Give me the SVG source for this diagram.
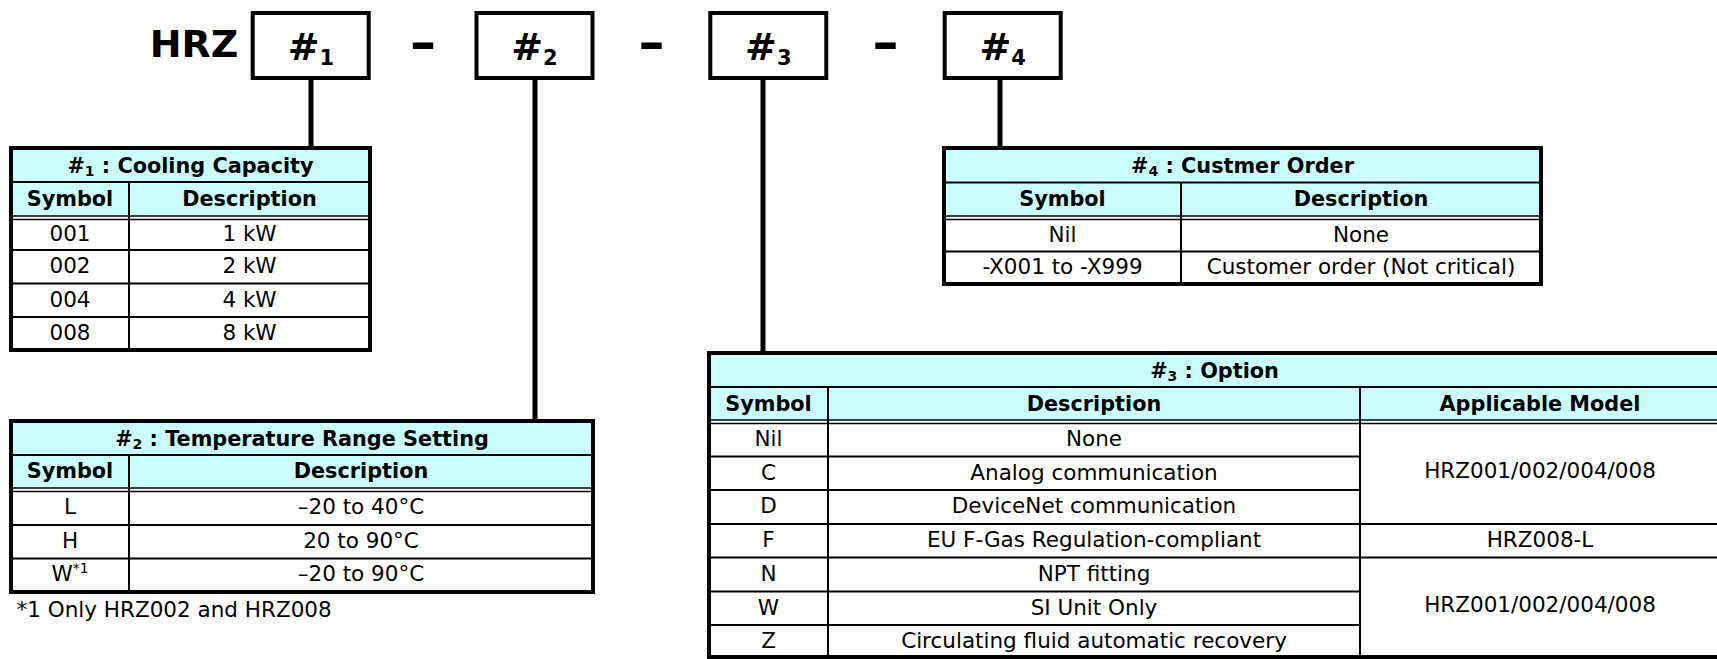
<svg xmlns="http://www.w3.org/2000/svg" width="1717" height="659" viewBox="0 0 1717 659">
<style>
.t{font-family:"DejaVu Sans",Verdana,sans-serif;font-size:21.5px;fill:#000;text-anchor:middle}
.b{font-weight:bold;font-size:20.8px}
.hd{fill:#ccffff}
.ln{stroke:#000;stroke-width:2;fill:none}
.dl{stroke:#000;stroke-width:1.5;fill:none}
.ol{fill:none;stroke:#000;stroke-width:4}
.bx{fill:#fff;stroke:#000;stroke-width:4}
.cn{stroke:#000;stroke-width:5;fill:none}
.big{font-family:"DejaVu Sans",Verdana,sans-serif;font-weight:bold;font-size:38px;fill:#000;text-anchor:middle}
.dash{font-family:"DejaVu Sans",Verdana,sans-serif;font-weight:bold;font-size:52px;fill:#000;text-anchor:middle}
</style>
<rect width="1717" height="659" fill="#fff"/>

<g id="connectors">
<line class="cn" x1="311" y1="80" x2="311" y2="148"/>
<line class="cn" x1="535" y1="80" x2="535" y2="421"/>
<line class="cn" x1="763" y1="80" x2="763" y2="353"/>
<line class="cn" x1="1000" y1="80" x2="1000" y2="148"/>
</g>

<g id="title">
<text class="big" x="194" y="57">HRZ</text>
<text class="dash" x="423" y="60">–</text>
<text class="dash" x="651.5" y="60">–</text>
<text class="dash" x="885.5" y="60">–</text>
</g>

<g id="box1">
<rect class="bx" x="252.7" y="13" width="116" height="65"/>
<text class="big" x="311" y="60">#<tspan style="font-size:21px" dy="5">1</tspan></text>
</g>
<g id="box2">
<rect class="bx" x="476.5" y="13" width="116" height="65"/>
<text class="big" x="534.5" y="60">#<tspan style="font-size:21px" dy="5">2</tspan></text>
</g>
<g id="box3">
<rect class="bx" x="710.3" y="13" width="116" height="65"/>
<text class="big" x="768.3" y="60">#<tspan style="font-size:21px" dy="5">3</tspan></text>
</g>
<g id="box4">
<rect class="bx" x="944.7" y="13" width="116" height="65"/>
<text class="big" x="1002.7" y="60">#<tspan style="font-size:21px" dy="5">4</tspan></text>
</g>

<g id="table1">
<rect x="11" y="148" width="359" height="202" fill="#fff"/>
<rect class="hd" x="11" y="148" width="359" height="68"/>
<line class="ln" x1="11" y1="182" x2="370" y2="182"/>
<line class="dl" x1="11" y1="216" x2="370" y2="216"/>
<line class="dl" x1="11" y1="219.5" x2="370" y2="219.5"/>
<line class="ln" x1="11" y1="250" x2="370" y2="250"/>
<line class="ln" x1="11" y1="283.5" x2="370" y2="283.5"/>
<line class="ln" x1="11" y1="317" x2="370" y2="317"/>
<line class="ln" x1="129" y1="182" x2="129" y2="350"/>
<rect class="ol" x="11" y="148" width="359" height="202"/>
<text class="t b" x="190.5" y="172.5">#<tspan style="font-size:14px" dy="3">1</tspan><tspan dy="-3"> : Cooling Capacity</tspan></text>
<text class="t b" x="70" y="205.5">Symbol</text>
<text class="t b" x="249.5" y="205.5">Description</text>
<text class="t" x="70" y="241">001</text><text class="t" x="249.5" y="241">1 kW</text>
<text class="t" x="70" y="273">002</text><text class="t" x="249.5" y="273">2 kW</text>
<text class="t" x="70" y="306.5">004</text><text class="t" x="249.5" y="306.5">4 kW</text>
<text class="t" x="70" y="340">008</text><text class="t" x="249.5" y="340">8 kW</text>
</g>

<g id="table2">
<rect x="11" y="421" width="582" height="171" fill="#fff"/>
<rect class="hd" x="11" y="421" width="582" height="67"/>
<line class="ln" x1="11" y1="455" x2="593" y2="455"/>
<line class="dl" x1="11" y1="488" x2="593" y2="488"/>
<line class="dl" x1="11" y1="491.5" x2="593" y2="491.5"/>
<line class="ln" x1="11" y1="525" x2="593" y2="525"/>
<line class="ln" x1="11" y1="558.5" x2="593" y2="558.5"/>
<line class="ln" x1="129" y1="455" x2="129" y2="592"/>
<rect class="ol" x="11" y="421" width="582" height="171"/>
<text class="t b" x="302" y="445.5">#<tspan style="font-size:14px" dy="3">2</tspan><tspan dy="-3"> : Temperature Range Setting</tspan></text>
<text class="t b" x="70" y="478">Symbol</text>
<text class="t b" x="361" y="478">Description</text>
<text class="t" x="70" y="514">L</text><text class="t" x="361" y="514">–20 to 40°C</text>
<text class="t" x="70" y="547.5">H</text><text class="t" x="361" y="547.5">20 to 90°C</text>
<text class="t" x="70" y="581">W<tspan style="font-size:14px" dy="-8">*1</tspan></text><text class="t" x="361" y="581">–20 to 90°C</text>
<text class="t" x="16.5" y="617" style="text-anchor:start">*1 Only HRZ002 and HRZ008</text>
</g>

<g id="table4">
<rect x="944" y="148" width="597" height="136" fill="#fff"/>
<rect class="hd" x="944" y="148" width="597" height="68"/>
<line class="ln" x1="944" y1="182.5" x2="1541" y2="182.5"/>
<line class="dl" x1="944" y1="216" x2="1541" y2="216"/>
<line class="dl" x1="944" y1="219.5" x2="1541" y2="219.5"/>
<line class="ln" x1="944" y1="251.5" x2="1541" y2="251.5"/>
<line class="ln" x1="1181" y1="182.5" x2="1181" y2="284"/>
<rect class="ol" x="944" y="148" width="597" height="136"/>
<text class="t b" x="1242.5" y="172.5">#<tspan style="font-size:14px" dy="3">4</tspan><tspan dy="-3"> : Custmer Order</tspan></text>
<text class="t b" x="1062.5" y="205.5">Symbol</text>
<text class="t b" x="1361" y="205.5">Description</text>
<text class="t" x="1062.5" y="241.5">Nil</text><text class="t" x="1361" y="241.5">None</text>
<text class="t" x="1062.5" y="274">-X001 to -X999</text><text class="t" x="1361" y="274">Customer order (Not critical)</text>
</g>

<g id="table3">
<rect x="709" y="353" width="1011" height="304" fill="#fff"/>
<rect class="hd" x="709" y="353" width="1011" height="67"/>
<line class="ln" x1="709" y1="387" x2="1720" y2="387"/>
<line class="dl" x1="709" y1="420" x2="1720" y2="420"/>
<line class="dl" x1="709" y1="423.5" x2="1720" y2="423.5"/>
<line class="ln" x1="709" y1="456.5" x2="1360" y2="456.5"/>
<line class="ln" x1="709" y1="490" x2="1360" y2="490"/>
<line class="ln" x1="709" y1="524" x2="1720" y2="524"/>
<line class="ln" x1="709" y1="557.5" x2="1720" y2="557.5"/>
<line class="ln" x1="709" y1="591.5" x2="1360" y2="591.5"/>
<line class="ln" x1="709" y1="625" x2="1360" y2="625"/>
<line class="ln" x1="828" y1="387" x2="828" y2="657"/>
<line class="ln" x1="1360" y1="387" x2="1360" y2="657"/>
<rect class="ol" x="709" y="353" width="1011" height="304"/>
<text class="t b" x="1214.5" y="377.5">#<tspan style="font-size:14px" dy="3">3</tspan><tspan dy="-3"> : Option</tspan></text>
<text class="t b" x="768.5" y="410.5">Symbol</text>
<text class="t b" x="1094" y="410.5">Description</text>
<text class="t b" x="1540" y="410.5">Applicable Model</text>
<text class="t" x="768.5" y="446">Nil</text><text class="t" x="1094" y="446">None</text>
<text class="t" x="768.5" y="479.5">C</text><text class="t" x="1094" y="479.5">Analog communication</text>
<text class="t" x="768.5" y="513">D</text><text class="t" x="1094" y="513">DeviceNet communication</text>
<text class="t" x="768.5" y="547">F</text><text class="t" x="1094" y="547">EU F-Gas Regulation-compliant</text>
<text class="t" x="768.5" y="580.5">N</text><text class="t" x="1094" y="580.5">NPT fitting</text>
<text class="t" x="768.5" y="614.5">W</text><text class="t" x="1094" y="614.5">SI Unit Only</text>
<text class="t" x="768.5" y="647.5">Z</text><text class="t" x="1094" y="647.5">Circulating fluid automatic recovery</text>
<text class="t" x="1540" y="478">HRZ001/002/004/008</text>
<text class="t" x="1540" y="547">HRZ008-L</text>
<text class="t" x="1540" y="611.5">HRZ001/002/004/008</text>
</g>
</svg>
